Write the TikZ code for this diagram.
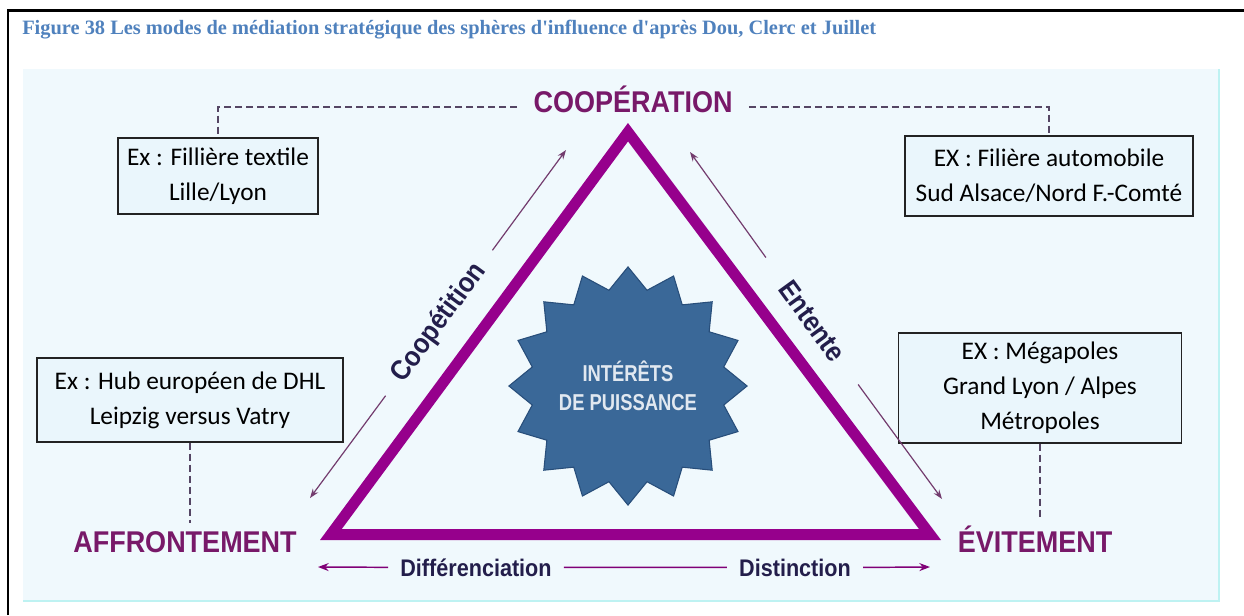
\documentclass[tikz,border=0pt]{standalone}
\usepackage{fontspec}
\setmainfont{Liberation Serif}
\newfontfamily\titlefont{Liberation Serif}[Ligatures=TeXOff]
\newfontfamily\labfont{Liberation Sans}[FakeStretch=0.9]
\newfontfamily\starfont{Liberation Sans}[FakeStretch=0.8]
\newfontfamily\boxfont{Carlito}
\usetikzlibrary{shapes.geometric,arrows.meta}
\definecolor{titleblue}{RGB}{79,129,189}
\definecolor{panelfill}{RGB}{240,249,253}
\definecolor{panelborder}{RGB}{190,242,242}
\definecolor{tripurple}{RGB}{150,0,140}
\definecolor{labpurple}{RGB}{120,25,105}
\definecolor{navy}{RGB}{35,30,75}
\definecolor{dashcol}{RGB}{85,70,100}
\definecolor{thinarrow}{RGB}{115,60,110}
\definecolor{boxfill}{RGB}{234,246,252}
\definecolor{boxborder}{RGB}{35,35,35}
\definecolor{starfill}{RGB}{58,104,152}
\definecolor{starborder}{RGB}{40,78,122}
\definecolor{startext}{RGB}{225,232,240}
\begin{document}
\begin{tikzpicture}[x=0.75pt,y=-0.75pt,
  exbox/.style={draw=boxborder, fill=boxfill, line width=0.8pt, align=center, inner sep=0pt,
    font=\boxfont\fontsize{19}{26.25}\selectfont},
  biglab/.style={font=\labfont\bfseries\fontsize{22.5}{27}\selectfont, text=labpurple, inner sep=6pt},
  botlab/.style={font=\labfont\bfseries\fontsize{18}{22}\selectfont, text=navy, inner xsep=9pt, inner ysep=3pt},
  diaglab/.style={font=\labfont\bfseries\fontsize{21}{25}\selectfont, text=navy, inner ysep=2pt},
  dashline/.style={draw=dashcol, line width=1.1pt, dash pattern=on 5.25pt off 3pt},
  diagarrow/.style={draw=thinarrow, line width=0.9pt, -{Stealth[length=7pt,width=5pt]}},
  botarrow/.style={draw=tripurple!85!black, line width=1.1pt, -{Stealth[length=8pt,width=6pt]}},
  botline/.style={draw=tripurple!85!black, line width=1.1pt},
  tri/.style={draw=tripurple, line width=8.25pt, line join=miter},
  starshape/.style={star, star points=16, star point ratio=1.22, minimum size=159pt, inner sep=0pt,
    fill=starfill, draw=starborder, line width=0.8pt, text=startext, align=center,
    font=\starfont\bfseries\fontsize{17.25}{21.75}\selectfont}
]
\useasboundingbox (0,0) rectangle (1244,615);
% frame
\draw[line width=1.6pt] (8,615) -- (8,10.5) -- (1244,10.5);
% title
\node[anchor=base west, inner sep=0pt, text=titleblue, font=\titlefont\bfseries\fontsize{15.3}{18}\selectfont] (title) at (22,34)
  {Figure 38 Les modes de médiation stratégique des sphères d'influence d'après Dou, Clerc et Juillet};
% panel
\fill[panelfill] (23,69) rectangle (1220,602);
\draw[panelborder, line width=1.5pt] (23,601) -- (1219,601) -- (1219,69);
% triangle
\draw[tri] (628,132.2) -- (330.9,534.5) -- (930,534.5) -- cycle;
% star
\node[starshape] (star) at (628,386) {INTÉRÊTS\\DE PUISSANCE};
% main labels
\node[biglab, anchor=base] (coop) at (633,112) {COOPÉRATION};
\node[biglab, anchor=base] (affr) at (185,552) {AFFRONTEMENT};
\node[biglab, anchor=base] (evit) at (1035,552) {ÉVITEMENT};
% example boxes
\node[exbox, minimum width=150pt, minimum height=57pt] (tl) at (218,176) {Ex : Fillière textile\\Lille/Lyon};
\node[exbox, minimum width=216pt, minimum height=60pt] (tr) at (1049,176) {EX : Filière automobile\\Sud Alsace/Nord F.-Comté};
\node[exbox, minimum width=229.5pt, minimum height=63pt] (ml) at (190,400) {Ex : Hub européen de DHL\\Leipzig versus Vatry};
\node[exbox, minimum width=212.25pt, minimum height=82.5pt] (mr) at (1040,388) {EX : Mégapoles\\Grand Lyon / Alpes\\Métropoles};
% dashed connectors
\draw[dashline] ([shift={(-6pt,1.5pt)}]coop.mid west) -| (tl.north);
\draw[dashline] ([shift={(6pt,1.5pt)}]coop.mid east) -| (tr.north);
\draw[dashline] (ml.south) -- (ml.south |- affr.north);
\draw[dashline] (mr.south) -- (mr.south |- evit.north);
% diagonal labels and arrows
\coordinate (cA) at (310,498);
\coordinate (cB) at (566,150);
\node[diaglab, rotate=53.7, inner xsep=15pt] (coopet) at (439,323) {Coopétition};
\draw[diagarrow] (coopet.east) -- (cB);
\draw[diagarrow] (coopet.west) -- (cA);
\coordinate (cC) at (690,152);
\coordinate (cD) at (942,499);
\node[diaglab, rotate=-54, inner xsep=24pt] (ent) at (812,321) {Entente};
\draw[diagarrow] (ent.west) -- (cC);
\draw[diagarrow] (ent.east) -- (cD);
% bottom labels and arrows
\node[botlab, anchor=base] (diff) at (476,576) {Différenciation};
\node[botlab, anchor=base] (dist) at (795,576) {Distinction};
\coordinate (bl) at (318,567);
\coordinate (br) at (930,567);
\draw[botarrow] (diff.west) -- (bl);
\draw[botline] (diff.east) -- (dist.west);
\draw[botarrow] (dist.east) -- (br);
\end{tikzpicture}
\end{document}
